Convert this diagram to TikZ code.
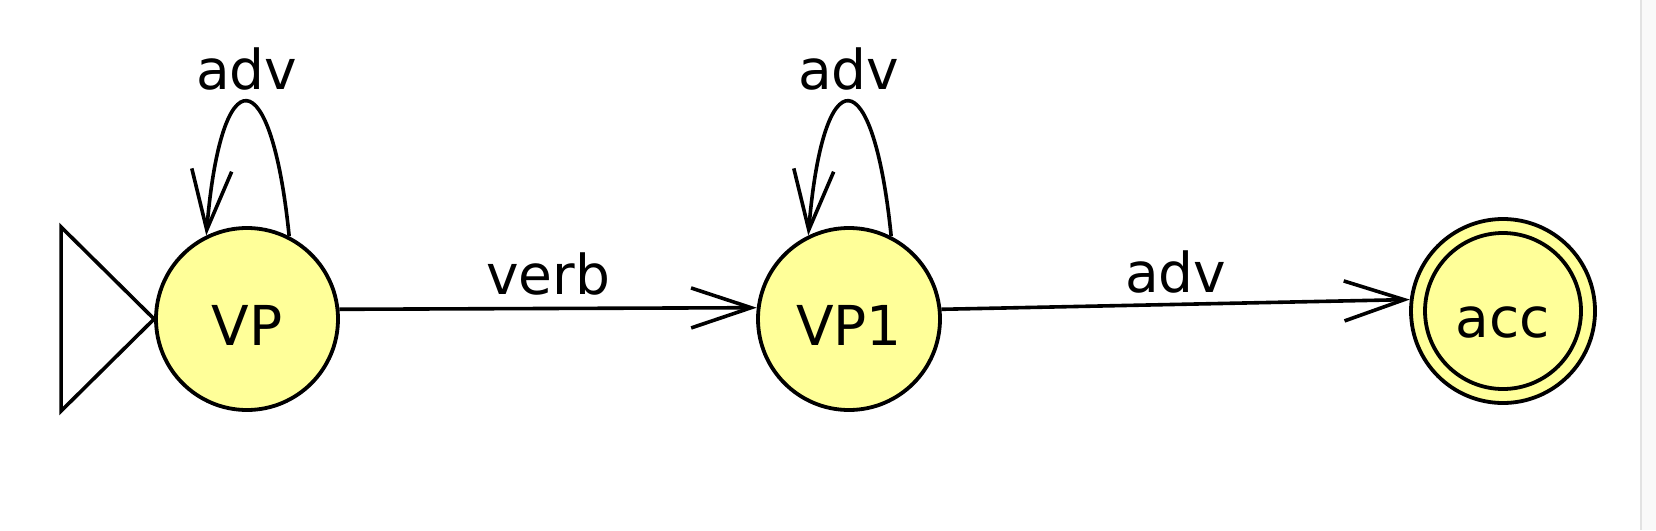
\documentclass[tikz,border=0pt]{standalone}
\usepackage{fontspec}
\setmainfont{DejaVu Sans}
\usetikzlibrary{arrows.meta}
\definecolor{stateyellow}{RGB}{255,255,153}
\definecolor{stripfill}{RGB}{249,249,249}
\definecolor{stripline}{RGB}{226,226,226}
\begin{document}
\begin{tikzpicture}[x=1pt,y=-1pt,
  every node/.style={font=\fontsize{55}{66}\selectfont},
  state/.style={circle,draw=black,fill=stateyellow,line width=3.8pt,
    minimum size=182pt,inner sep=0pt,text height=52pt,text depth=0pt},
  edge/.style={line width=3.6pt,
    -{Straight Barb[length=60pt,width=40pt,line width=3.6pt]}},
  lbl/.style={anchor=base,inner sep=0pt}]
\useasboundingbox (0,0) rectangle (1656,530);
\fill[white] (0,0) rectangle (1656,530);
\fill[stripfill] (1640,0) rectangle (1656,530);
\draw[stripline,line width=1.5pt] (1640.75,0) -- (1640.75,530);

\node[state] (VP) at (247,319) {VP};
\node[state] (VP1) at (849,319) {VP1};
\node[state,minimum size=184pt] (acc) at (1503,311) {acc};
\draw[line width=3.8pt] (acc.center) circle (78);

% start marker
\draw[line width=3.6pt,line join=miter] (VP.west) -- ++(-93,-92) -- ++(0,184) -- cycle;

% self loops
\draw[edge] (VP.63) .. controls +(-18,-178) and +(15,-180) .. (VP.116)
  node[lbl,pos=0.5,yshift=12pt] (l1) {adv};
\draw[edge] (VP1.63) .. controls +(-18,-178) and +(15,-180) .. (VP1.116)
  node[lbl,pos=0.5,yshift=12pt] (l2) {adv};

% transitions
\coordinate (vpa) at ([yshift=10pt]VP.east);
\draw[edge] (VP.6.3) -- (VP1.173.7) node[lbl,midway,yshift=14pt] (l3) {verb};
\draw[edge] (VP1.6.3) -- (acc.173.8) node[lbl,midway,yshift=12pt] (l4) {adv};
\end{tikzpicture}
\end{document}
